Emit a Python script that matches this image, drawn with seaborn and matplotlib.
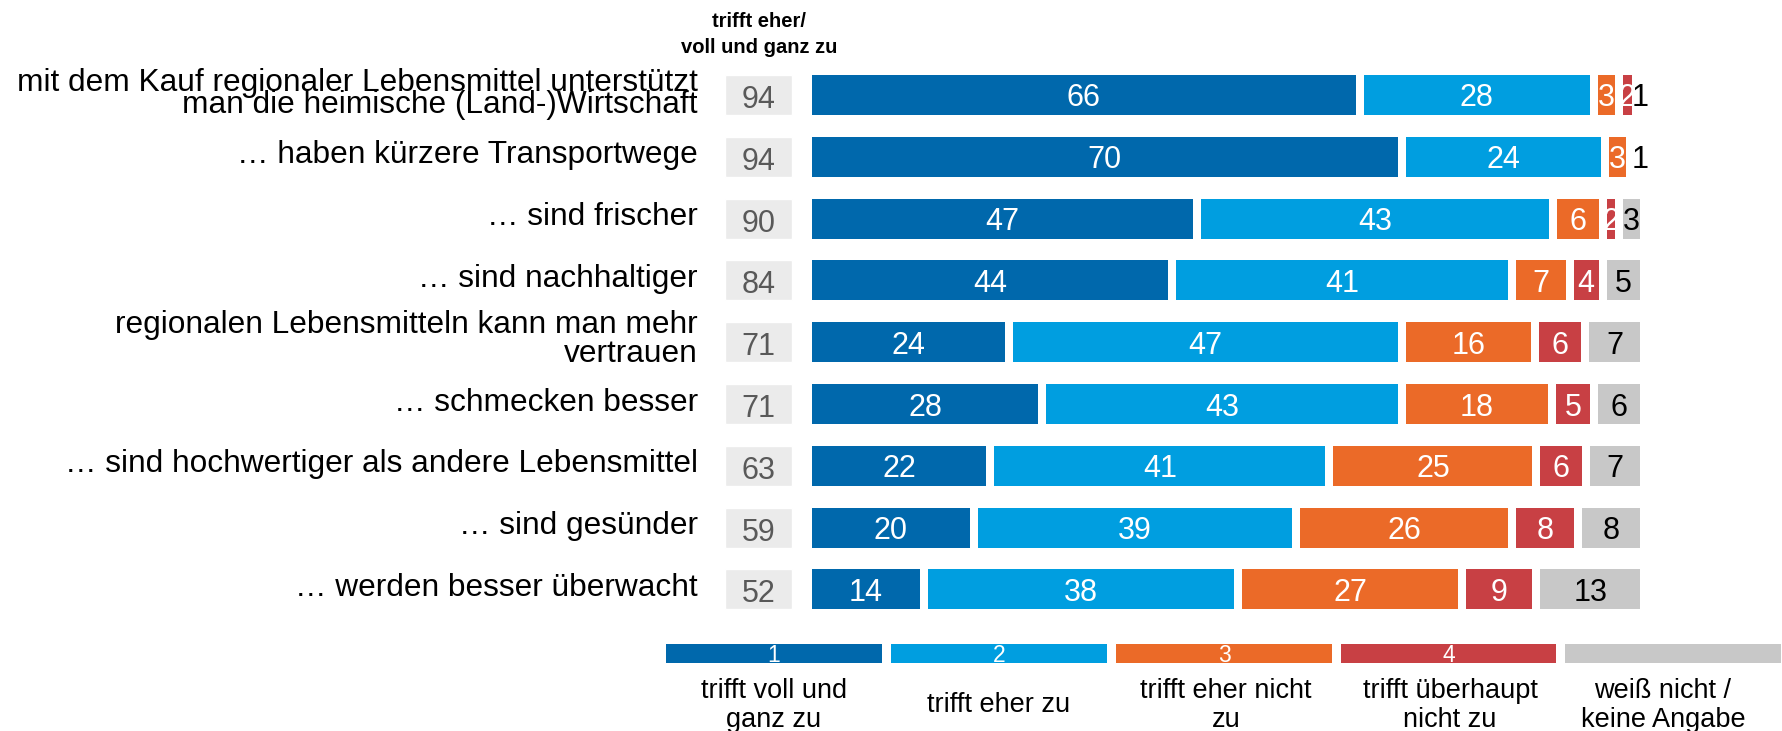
import numpy as np
import pandas as pd
import matplotlib
matplotlib.use("Agg")
import matplotlib.pyplot as plt
from matplotlib.patches import Rectangle
import seaborn as sns

# ---------------- data ----------------
statements = [
    "mit dem Kauf regionaler Lebensmittel unterstützt\nman die heimische (Land-)Wirtschaft",
    "… haben kürzere Transportwege",
    "… sind frischer",
    "… sind nachhaltiger",
    "regionalen Lebensmitteln kann man mehr\nvertrauen",
    "… schmecken besser",
    "… sind hochwertiger als andere Lebensmittel",
    "… sind gesünder",
    "… werden besser überwacht",
]
totals = [94, 94, 90, 84, 71, 71, 63, 59, 52]
voll_und_ganz = [66, 70, 47, 44, 24, 28, 22, 20, 14]
eher_zu = [28, 24, 43, 41, 47, 43, 41, 39, 38]
eher_nicht = [3, 3, 6, 7, 16, 18, 25, 26, 27]
ueberhaupt_nicht = [2, 0.6, 2, 4, 6, 5, 6, 8, 9]
weiss_nicht = [1, 1, 3, 5, 7, 6, 7, 8, 13]

legend_numbers = ["1", "2", "3", "4", ""]
legend_labels = ["trifft voll und\nganz zu", "trifft eher zu", "trifft eher nicht\nzu",
                 "trifft überhaupt\nnicht zu", "weiß nicht /\nkeine Angabe"]
header_lines = ["trifft eher/", "voll und ganz zu"]
colors = ["#0068AC", "#009EE0", "#EB6A28", "#C84044", "#C8C8C8"]

series = [voll_und_ganz, eher_zu, eher_nicht, ueberhaupt_nicht, weiss_nicht]

# ---------------- layout helpers (pixels -> data) ----------------
W, H = 1783, 731
X0, UX = 808.0, 8.36     # x pixel of value 0, pixels per percent
Y0, UY = 95.0, 61.81     # y pixel of first row centre, pixels per row


def px2x(px):
    return (px - X0) / UX


def px2y(py):
    return (py - Y0) / UY


sns.set_theme(style="white")
plt.rcParams["font.family"] = ["Liberation Sans", "DejaVu Sans"]

fig = plt.figure(figsize=(W / 100, H / 100), dpi=100)
ax = fig.add_axes([0, 0, 1, 1])

# long table with normalised cumulative shares
vals = np.array(series, dtype=float)          # 5 x 9
shares = vals / vals.sum(axis=0) * 100
cums = np.cumsum(shares, axis=0)
rows = []
for k in range(5):
    for i, s in enumerate(statements):
        rows.append({"statement": s, "seg": k, "value": vals[k, i],
                     "share": shares[k, i], "cum": cums[k, i]})
df = pd.DataFrame(rows)

bar_h = 48 / UY
for k in reversed(range(5)):
    sub = df[df["seg"] == k]
    sns.barplot(data=sub, x="cum", y="statement", order=statements, orient="h",
                color=colors[k], saturation=1, width=bar_h, errorbar=None,
                edgecolor="white", linewidth=5.76, ax=ax)

# grey total boxes
ax.barh(y=np.arange(len(statements)), width=(792 - 725) / UX, left=px2x(725),
        height=40 / UY, color="#EBEBEB", zorder=2)

# segment labels
for _, r in df.iterrows():
    if r["value"] < 1:
        continue
    i = statements.index(r["statement"])
    xc = r["cum"] - r["share"] / 2
    ax.text(xc, i + 11.5 / UY, f"{int(round(r['value']))}", ha="center", va="baseline",
            fontsize=22, color="white" if r["seg"] < 4 else "black", zorder=5)

# totals
for i, t in enumerate(totals):
    ax.text(px2x(758.5), i + 13 / UY, str(t), ha="center", va="baseline",
            fontsize=22, color="#595959", zorder=5)

# category labels
two_line_offsets = {0: (-4, 18), 4: (-9, 20)}
for i, s in enumerate(statements):
    lines = s.split("\n")
    offs = two_line_offsets.get(i, (6.5,)) if len(lines) > 1 else (6.5,)
    for line, o in zip(lines, offs):
        ax.text(px2x(698), i + o / UY, line, ha="right", va="baseline",
                fontsize=22.8, color="black")

# header
for line, by in zip(header_lines, [27, 53]):
    ax.text(px2x(759), px2y(by), line, ha="center", va="baseline",
            fontsize=14.5, fontweight="bold", color="black")

ax.set_xlim(px2x(0), px2x(W))
ax.set_ylim(px2y(H), px2y(0))
ax.axis("off")

# legend
leg_x = [(666, 882), (891, 1107), (1116, 1332), (1341, 1556), (1565, 1781)]
leg_label_cx = [774, 999, 1226, 1450, 1663]
for (x0, x1), c, n, lab, lcx in zip(leg_x, colors, legend_numbers, legend_labels, leg_label_cx):
    fig.patches.append(Rectangle((x0 / W, 1 - 663 / H), (x1 - x0) / W, 19 / H,
                                 transform=fig.transFigure, color=c, lw=0))
    xc = (x0 + x1) / 2 / W
    if n:
        fig.text(xc, 1 - 661.5 / H, n, ha="center", va="baseline", fontsize=16.5,
                 color="white")
    lines = lab.split("\n")
    bls = [698, 727] if len(lines) == 2 else [712]
    for line, by in zip(lines, bls):
        fig.text(lcx / W, 1 - by / H, line, ha="center", va="baseline", fontsize=19.5,
                 color="black")

fig.savefig("out.png", dpi=100, facecolor="white")
